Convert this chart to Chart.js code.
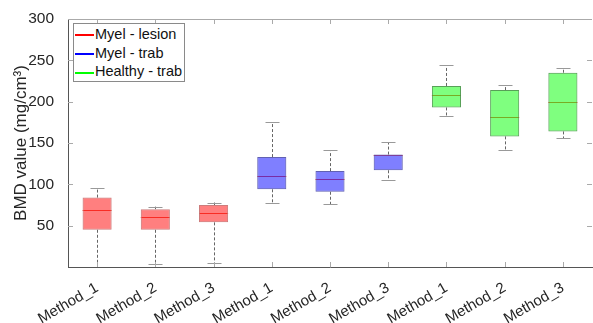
<!DOCTYPE html>
<html>
<head>
<meta charset="utf-8">
<script src="https://cdn.jsdelivr.net/npm/chart.js@4"></script>
<style>
  html, body { margin: 0; padding: 0; background: #fff; }
  #wrap { position: relative; width: 593px; height: 323px; }
  #legend {
    position: absolute; left: 73px; top: 23px; width: 112px; height: 59px;
    border: 1px solid #8a8a8a; background: #fff; box-sizing: border-box;
    font-family: "Liberation Sans", Arial, sans-serif; font-size: 14.5px; color: #111;
    padding-top: 1px;
  }
  .item { height: 18.7px; line-height: 18.7px; white-space: nowrap; }
  .item span { display: inline-block; width: 19px; height: 2px; vertical-align: middle; margin: 0 1px 0 1px; }
</style>
</head>
<body>
<div id="wrap">
  <canvas id="c" width="593" height="323"></canvas>
  <div id="legend"></div>
</div>
<script>
// Données
const categories = ['Method_1','Method_2','Method_3','Method_1','Method_2','Method_3','Method_1','Method_2','Method_3'];
const groups = ['Myel - lesion','Myel - trab','Healthy - trab'];
const groupOf = [0,0,0,1,1,1,2,2,2];
const q1 = [45, 45, 54, 94, 91, 117, 193, 158, 164];
const q3 = [84, 70, 75, 133, 116, 136, 219, 214, 235];
const medians = [69, 60, 65, 110, 106, 136, 208, 182, 199];
const whiskerLow = [1, 4, 5, 78, 76, 105, 183, 141, 156];
const whiskerHigh = [95, 73, 78, 175, 141, 151, 244, 220, 241];
const yTicks = [50, 100, 150, 200, 250, 300];

const fills = ['rgba(255,0,0,0.5)','rgba(0,0,255,0.5)','rgba(0,255,0,0.5)'];
const edges = ['rgba(200,110,110,0.9)','rgba(80,80,170,0.9)','rgba(70,150,70,0.9)'];
const legendColors = ['#ff0000','#0000ff','#00ff00'];

const FONT = '"Liberation Sans", Arial, sans-serif';

// legend (html)
const legendEl = document.getElementById('legend');
groups.forEach((g, i) => {
  const d = document.createElement('div');
  d.className = 'item';
  d.innerHTML = `<span style="background:${legendColors[i]}"></span>${g}`;
  legendEl.appendChild(d);
});

// medians under the transparent boxes, whiskers + frame ticks on top
const boxExtras = {
  id: 'boxExtras',
  beforeDatasetsDraw(chart) {
    const { ctx, scales: { x, y } } = chart;
    ctx.save();
    ctx.strokeStyle = 'rgba(240,60,40,0.85)';
    ctx.lineWidth = 1;
    categories.forEach((c, i) => {
      const bar = chart.getDatasetMeta(groupOf[i]).data[i];
      const half = bar.width / 2;
      const cx = x.getPixelForValue(i);
      const my = Math.round(y.getPixelForValue(medians[i])) + 0.5;
      ctx.beginPath();
      ctx.moveTo(cx - half, my);
      ctx.lineTo(cx + half, my);
      ctx.stroke();
    });
    ctx.restore();
  },
  afterDatasetsDraw(chart) {
    const { ctx, scales: { x, y }, chartArea: a } = chart;
    ctx.save();
    ctx.lineWidth = 1;
    categories.forEach((c, i) => {
      const cx = Math.round(x.getPixelForValue(i)) + 0.5;
      const yHi = y.getPixelForValue(whiskerHigh[i]);
      const yLo = y.getPixelForValue(whiskerLow[i]);
      const yQ3 = y.getPixelForValue(q3[i]);
      const yQ1 = y.getPixelForValue(q1[i]);
      ctx.strokeStyle = '#666';
      ctx.setLineDash([3, 2]);
      ctx.beginPath();
      ctx.moveTo(cx, yQ3); ctx.lineTo(cx, yHi);
      ctx.moveTo(cx, yQ1); ctx.lineTo(cx, yLo);
      ctx.stroke();
      ctx.setLineDash([]);
      ctx.strokeStyle = '#999';
      ctx.beginPath();
      ctx.moveTo(cx - 7, Math.round(yHi) + 0.5); ctx.lineTo(cx + 7, Math.round(yHi) + 0.5);
      if (whiskerLow[i] > 2) {
        ctx.moveTo(cx - 7, Math.round(yLo) + 0.5); ctx.lineTo(cx + 7, Math.round(yLo) + 0.5);
      }
      ctx.stroke();
    });
    // frame: top line, inward ticks
    ctx.strokeStyle = '#aaa';
    ctx.beginPath();
    ctx.moveTo(a.left, Math.round(a.top) + 0.5);
    ctx.lineTo(a.right, Math.round(a.top) + 0.5);
    categories.forEach((c, i) => {
      const cx = Math.round(x.getPixelForValue(i)) + 0.5;
      ctx.moveTo(cx, a.top); ctx.lineTo(cx, a.top + 5);
      ctx.moveTo(cx, a.bottom); ctx.lineTo(cx, a.bottom - 5);
    });
    yTicks.forEach(v => {
      const ty = Math.round(y.getPixelForValue(v)) + 0.5;
      ctx.moveTo(a.left, ty); ctx.lineTo(a.left + 5, ty);
      ctx.moveTo(a.right, ty); ctx.lineTo(a.right - 5, ty);
    });
    ctx.stroke();
    ctx.restore();
  }
};

const datasets = groups.map((g, gi) => ({
  label: g,
  data: categories.map((c, i) => groupOf[i] === gi ? [q1[i], q3[i]] : null),
  backgroundColor: fills[gi],
  borderColor: edges[gi],
  borderWidth: 1,
  borderSkipped: false,
  grouped: false,
  barPercentage: 0.5,
  categoryPercentage: 1.0
}));

new Chart(document.getElementById('c'), {
  type: 'bar',
  data: { labels: categories, datasets },
  plugins: [boxExtras],
  options: {
    responsive: false,
    animation: false,
    layout: { padding: { top: 19, right: 1, left: 0, bottom: 0 } },
    plugins: { legend: { display: false }, tooltip: { enabled: false } },
    scales: {
      x: {
        grid: { display: false },
        border: { display: true, color: '#555' },
        ticks: {
          autoSkip: false, minRotation: 30, maxRotation: 30,
          color: '#262626', font: { family: FONT, size: 15 }, padding: 4
        },
        afterFit(s) { s.height = 56; }
      },
      y: {
        min: 0, max: 300,
        grid: { display: false },
        border: { display: true, color: '#555' },
        ticks: {
          stepSize: 50, color: '#262626', font: { family: FONT, size: 15.5 }, padding: 6,
          callback: v => v === 0 ? '' : v
        },
        title: {
          display: true, text: 'BMD value (mg/cm³)', color: '#262626',
          font: { family: FONT, size: 17 }, padding: { top: 11, bottom: 0 }
        },
        afterFit(s) { s.width = 68; }
      }
    }
  }
});
</script>
</body>
</html>
